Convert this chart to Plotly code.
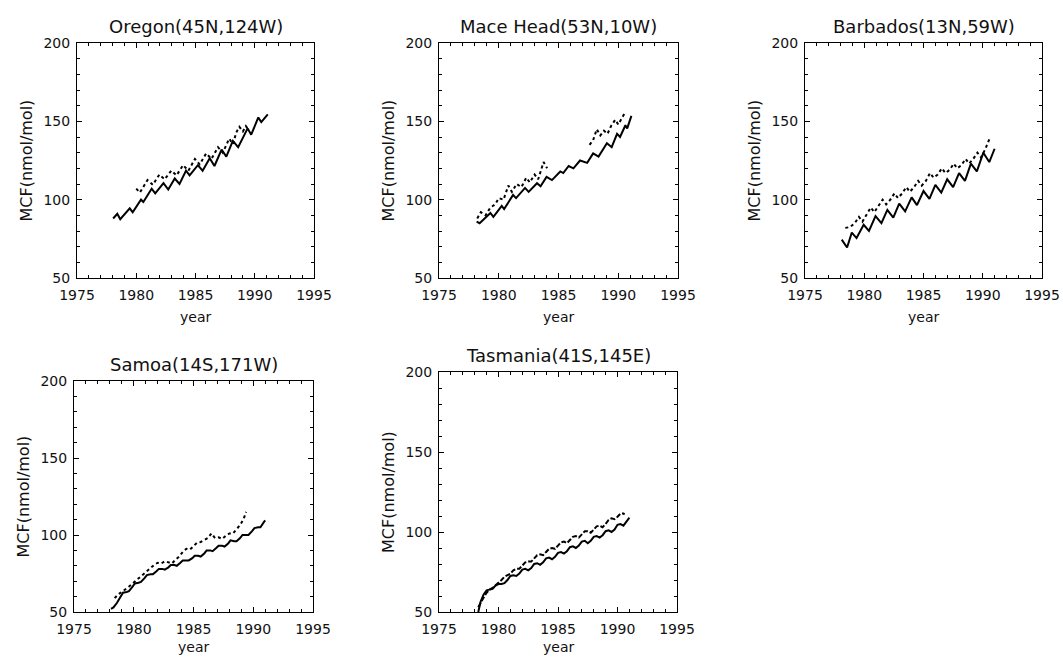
import plotly.graph_objects as go

W, H = 1063, 657

# ---------------- data ----------------
panel_titles = ["Oregon(45N,124W)", "Mace Head(53N,10W)", "Barbados(13N,59W)",
                "Samoa(14S,171W)", "Tasmania(41S,145E)"]
x_ticks = [1975, 1980, 1985, 1990, 1995]
y_ticks = [50, 100, 150, 200]
y_label = "MCF(nmol/mol)"
x_label = "year"

oregon_model_year = [1978.05, 1978.4, 1978.65, 1979.45, 1979.7, 1980.4, 1980.6, 1981.3, 1981.6,
                     1982.3, 1982.7, 1983.25, 1983.65, 1984.2, 1984.5, 1985.2, 1985.6, 1986.2,
                     1986.6, 1987.2, 1987.6, 1988.15, 1988.6, 1989.4, 1989.7, 1990.3, 1990.55, 1991.1]
oregon_model_mcf = [88, 91, 87.5, 94.5, 92, 100, 98.5, 107, 104, 110.5, 106.5, 113.5, 110, 118.5,
                    115.5, 122, 118.5, 126.5, 121.5, 132, 127.5, 137.5, 133.5, 145.5, 141.5, 152.5, 149.5, 154.5]
oregon_obs_year = [1980.0, 1980.3, 1980.95, 1981.4, 1981.95, 1982.4, 1982.95, 1983.4, 1983.95,
                   1984.4, 1984.95, 1985.35, 1985.9, 1986.35, 1986.9, 1987.3, 1987.85, 1988.15,
                   1988.45, 1988.7, 1989.0, 1989.25, 1989.45]
oregon_obs_mcf = [107, 104.5, 112.5, 109.5, 116, 113, 118.5, 115.5, 122, 118.5, 126, 122.5, 129.5,
                  126, 133.5, 130, 139, 135.5, 143, 146.5, 143.5, 147, 145]

macehead_model_year = [1978.15, 1978.4, 1979.3, 1979.55, 1980.25, 1980.45, 1981.2, 1981.45, 1982.2,
                       1982.5, 1983.2, 1983.5, 1984.0, 1984.45, 1985.15, 1985.4, 1985.85, 1986.25,
                       1986.8, 1987.4, 1987.9, 1988.35, 1989.05, 1989.45, 1989.9, 1990.15, 1990.6,
                       1990.75, 1991.1]
macehead_model_mcf = [86, 85, 91.5, 89, 96, 94, 103, 101, 107.5, 105, 110.5, 108.5, 114.5, 112.5,
                      118, 117, 121.5, 120, 125, 123.5, 129.5, 127.5, 136, 133.5, 142, 140, 147.5,
                      145.5, 153.5]
macehead_obs_year = [1978.2, 1978.5, 1978.9, 1979.3, 1979.7, 1980.0, 1980.4, 1980.8, 1981.1, 1981.5,
                     1981.9, 1982.3, 1982.6, 1983.0, 1983.3, 1983.75, 1984.05, None, 1987.6, 1987.9,
                     1988.2, 1988.5, 1988.8, 1989.1, 1989.4, 1989.75, 1990.0, 1990.3, 1990.6]
macehead_obs_mcf = [88, 92, 90, 95, 97, 101, 100, 109, 105, 110, 108, 114, 111, 116, 113, 124, 120,
                    None, 135, 138, 145, 141, 144, 142, 147, 151, 148, 152, 156]

barbados_model_year = [1978.1, 1978.55, 1978.95, 1979.35, 1979.95, 1980.4, 1980.95, 1981.45, 1981.95,
                       1982.45, 1982.95, 1983.45, 1984.0, 1984.45, 1985.0, 1985.5, 1986.0, 1986.5,
                       1987.0, 1987.5, 1988.0, 1988.5, 1989.0, 1989.5, 1990.05, 1990.55, 1991.0]
barbados_model_mcf = [74.5, 69.5, 79, 75.5, 84, 80, 89.5, 85, 93.5, 88.5, 97.5, 92.5, 101.5, 96.5,
                      105.5, 100.5, 109.5, 104.5, 113, 108, 117, 112, 123, 118, 130, 124, 132.5]
barbados_obs_year = [1978.4, 1978.8, 1979.2, 1979.55, 1979.85, 1980.2, 1980.55, 1980.85, 1981.2,
                     1981.55, 1981.85, 1982.2, 1982.55, 1982.85, 1983.2, 1983.55, 1983.85, 1984.2,
                     1984.55, 1984.85, 1985.2, 1985.55, 1985.85, 1986.2, 1986.55, 1986.85, 1987.2,
                     1987.55, 1987.85, 1988.2, 1988.55, 1988.85, 1989.2, 1989.55, 1989.85, 1990.2,
                     1990.6]
barbados_obs_mcf = [82, 82.5, 85, 89, 86, 91, 95, 92, 96, 100, 97, 100, 104, 101, 104, 108, 105,
                    108, 112, 109, 112, 117, 114, 116, 120, 117, 119, 123, 120, 122, 126, 123, 126,
                    130, 127, 132, 139.5]

samoa_model_year = [1978.1, 1978.3, 1978.6, 1978.9, 1979.1, 1979.4, 1979.6, 1979.9, 1980.1, 1980.4,
                    1980.6, 1980.9, 1981.1, 1981.4, 1981.6, 1981.9, 1982.1, 1982.4, 1982.6, 1982.9,
                    1983.1, 1983.4, 1983.6, 1983.9, 1984.1, 1984.4, 1984.6, 1984.9, 1985.1, 1985.4,
                    1985.6, 1985.9, 1986.1, 1986.4, 1986.6, 1986.9, 1987.1, 1987.4, 1987.6, 1987.9,
                    1988.1, 1988.4, 1988.6, 1988.9, 1989.1, 1989.4, 1989.6, 1989.9, 1990.1, 1990.4,
                    1990.6, 1990.9, 1991.0]
samoa_model_mcf = [52, 53, 56, 60, 62.5, 63, 63.5, 66.5, 68.5, 69, 69.5, 72, 74, 74.5, 74.5, 76.5,
                   78, 78, 77.5, 79, 80.5, 80.5, 80, 82, 83.5, 83.5, 83.5, 85, 86.5, 86.5, 86, 88,
                   90, 90, 89.5, 91.5, 93, 93, 92.5, 94.5, 96.5, 96, 96, 98, 100, 100, 100, 102.5,
                   104.5, 105, 105, 108.5, 109.5]
samoa_obs_year = [1978.4, 1978.7, 1979.0, 1979.3, 1979.6, 1979.9, 1980.2, 1980.5, 1980.8, 1981.1,
                  1981.4, 1981.7, 1982.0, 1982.3, 1982.6, 1982.9, 1983.2, 1983.5, 1983.8, 1984.1,
                  1984.4, 1984.7, 1985.0, 1985.3, 1985.6, 1985.9, 1986.2, 1986.5, 1986.8, 1987.1,
                  1987.4, 1987.7, 1988.0, 1988.3, 1988.6, 1988.9, 1989.2, 1989.4]
samoa_obs_mcf = [59, 61.5, 63, 64.5, 66.5, 68.5, 70.5, 72.5, 74.5, 77, 78.5, 80.5, 82, 81.5, 83, 82,
                 81.5, 84, 86, 89, 91, 90.5, 92.5, 95, 95.5, 96.5, 98, 101, 98, 98.5, 97.5, 99.5,
                 101, 101, 103.5, 106.5, 110.5, 115]

tasmania_model_year = [1978.3, 1978.5, 1978.75, 1979.0, 1979.25, 1979.5, 1979.75, 1980.0, 1980.25,
                       1980.5, 1980.75, 1981.0, 1981.25, 1981.5, 1981.75, 1982.0, 1982.25, 1982.5,
                       1982.75, 1983.0, 1983.25, 1983.5, 1983.75, 1984.0, 1984.25, 1984.5, 1984.75,
                       1985.0, 1985.25, 1985.5, 1985.75, 1986.0, 1986.25, 1986.5, 1986.75, 1987.0,
                       1987.25, 1987.5, 1987.75, 1988.0, 1988.25, 1988.5, 1988.75, 1989.0, 1989.25,
                       1989.5, 1989.75, 1990.0, 1990.25, 1990.5, 1990.75, 1991.0]
tasmania_model_mcf = [50, 56.5, 61, 63.5, 64, 64.5, 66.5, 67.5, 67.5, 68, 70, 72.5, 73, 72.5, 74,
                      76.5, 77, 76, 77.5, 80, 80.5, 79.5, 81, 83.5, 84, 83, 84.5, 87, 87.5, 86.5, 88,
                      90.5, 91, 90, 91.5, 94, 94.5, 93, 94.5, 97, 97.5, 96.5, 98, 100.5, 101, 100,
                      101.5, 104.5, 105, 104, 106.5, 109]
tasmania_obs_year = [1978.3, 1978.5, 1978.75, 1979.0, 1979.25, 1979.5, 1979.75, 1980.0, 1980.25,
                     1980.5, 1980.75, 1981.0, 1981.25, 1981.5, 1981.75, 1982.0, 1982.25, 1982.5,
                     1982.75, 1983.0, 1983.25, 1983.5, 1983.75, 1984.0, 1984.25, 1984.5, 1984.75,
                     1985.0, 1985.25, 1985.5, 1985.75, 1986.0, 1986.25, 1986.5, 1986.75, 1987.0,
                     1987.25, 1987.5, 1987.75, 1988.0, 1988.25, 1988.5, 1988.75, 1989.0, 1989.25,
                     1989.5, 1989.75, 1990.0, 1990.25, 1990.5, 1990.6]
tasmania_obs_mcf = [53, 56, 59, 62, 64, 65, 66.5, 68.5, 70, 72, 73, 74, 76, 77, 77, 79, 81, 81.5,
                    81.5, 83.5, 85.5, 86, 85.5, 87.5, 89.5, 90, 89.5, 91.5, 93.5, 94, 93, 95, 97,
                    97.5, 96.5, 98.5, 100.5, 100.5, 99.5, 101.5, 103.5, 104, 103, 105, 107.5, 108.5,
                    108, 109.5, 111.5, 111.5, 111]

# ---------------- layout geometry (window pixels) ----------------
boxes = [  # left, right, top, bottom
    (77, 314, 43, 278),
    (439, 678, 43, 278),
    (805, 1042, 43, 278),
    (74, 313, 381, 612),
    (439, 677, 372, 612),
]

series = [
    (oregon_model_year, oregon_model_mcf, oregon_obs_year, oregon_obs_mcf, "dot"),
    (macehead_model_year, macehead_model_mcf, macehead_obs_year, macehead_obs_mcf, "dot"),
    (barbados_model_year, barbados_model_mcf, barbados_obs_year, barbados_obs_mcf, "dot"),
    (samoa_model_year, samoa_model_mcf, samoa_obs_year, samoa_obs_mcf, "dot"),
    (tasmania_model_year, tasmania_model_mcf, tasmania_obs_year, tasmania_obs_mcf, "5px,2px"),
]

FONT = "DejaVu Sans"
TXT = "#111111"


def px(x):
    return x / W


def py(y):
    return 1 - y / H


fig = go.Figure()
annotations = []
layout_axes = {}

for i, ((l, r, t, b), (my, mv, oy, ov, odash), title) in enumerate(zip(boxes, series, panel_titles), 1):
    xa = "x" if i == 1 else f"x{i}"
    ya = "y" if i == 1 else f"y{i}"
    fig.add_trace(go.Scatter(x=my, y=mv, mode="lines", xaxis=xa, yaxis=ya,
                             line=dict(color="black", width=2), connectgaps=False,
                             showlegend=False, hoverinfo="skip"))
    fig.add_trace(go.Scatter(x=oy, y=ov, mode="lines", xaxis=xa, yaxis=ya,
                             line=dict(color="black", width=2, dash=odash), connectgaps=False,
                             showlegend=False, hoverinfo="skip"))
    common = dict(showline=True, linecolor="black", linewidth=1, mirror="ticks",
                  ticks="inside", tickcolor="black", ticklen=5, tickwidth=1,
                  showgrid=False, zeroline=False, automargin=False,
                  tickfont=dict(family=FONT, size=14, color=TXT))
    layout_axes[f"xaxis{'' if i == 1 else i}"] = dict(
        domain=[px(l), px(r)], anchor=ya, range=[1975, 1995],
        tickmode="array", tickvals=x_ticks, ticktext=[str(v) for v in x_ticks],
        minor=dict(ticks="inside", ticklen=3, dtick=1, tick0=1975, tickcolor="black"),
        ticklabelstandoff=4, **common)
    layout_axes[f"yaxis{'' if i == 1 else i}"] = dict(
        domain=[py(b), py(t)], anchor=xa, range=[50, 200],
        tickmode="array", tickvals=y_ticks, ticktext=[str(v) for v in y_ticks],
        minor=dict(ticks="inside", ticklen=3, dtick=10, tick0=50, tickcolor="black"),
        ticklabelstandoff=3, **common)
    cx = (l + r) / 2
    annotations.append(dict(text=title, x=px(cx), y=py(t - 17), xref="paper", yref="paper",
                            showarrow=False, xanchor="center", yanchor="middle",
                            font=dict(family=FONT, size=18, color=TXT)))
    annotations.append(dict(text=y_label, x=px(l - 51), y=py((t + b) / 2), xref="paper",
                            yref="paper", showarrow=False, textangle=-90,
                            xanchor="center", yanchor="middle",
                            font=dict(family=FONT, size=16, color=TXT)))
    annotations.append(dict(text=x_label, x=px(cx), y=py(min(b + 39, 647)), xref="paper",
                            yref="paper", showarrow=False, xanchor="center", yanchor="middle",
                            font=dict(family=FONT, size=14, color=TXT)))

fig.update_layout(width=W, height=H, margin=dict(l=0, r=0, t=0, b=0, pad=0),
                  paper_bgcolor="white", plot_bgcolor="white", showlegend=False,
                  hovermode=False, annotations=annotations, **layout_axes)

fig.write_html("out.html", config={"displayModeBar": False, "staticPlot": True},
               post_script="document.body.style.margin='0px';document.body.style.overflow='hidden';")
